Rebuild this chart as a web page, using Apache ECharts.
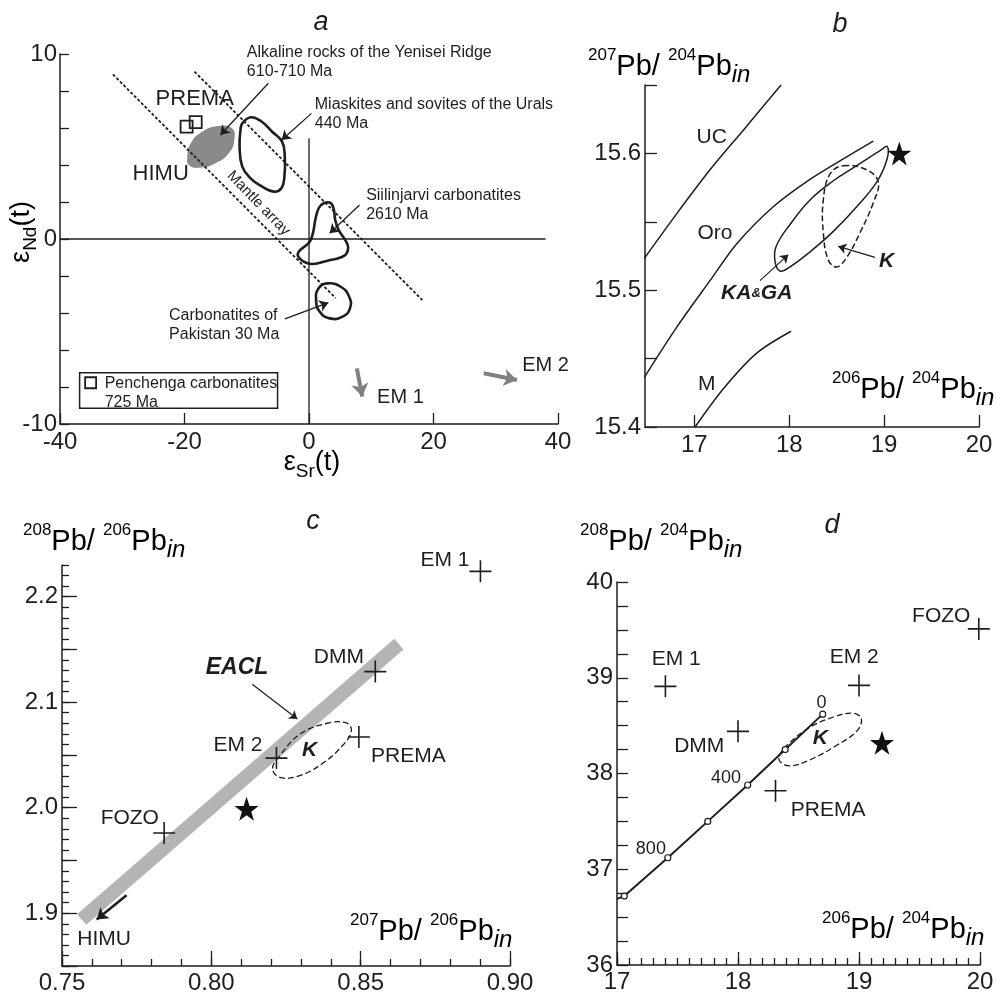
<!DOCTYPE html>
<html><head><meta charset="utf-8">
<script src="https://cdn.jsdelivr.net/npm/echarts@6/dist/echarts.min.js"></script>
<style>html,body{margin:0;padding:0;background:#fff}#c{width:998px;height:1003px}</style>
</head><body><div id="c"></div>
<script>
const FONT = '"Liberation Sans", Arial, Helvetica, sans-serif';
const INK = '#1e1e1e';

/* ---------- Panel a: eps Nd vs eps Sr ---------- */
const aMantleLeft = [[-31.5, 8.9], [4.3, -3.2]];
const aMantleRight = [[-18.4, 9.05], [18.2, -3.3]];
const aZeroH = [[-40, 0], [38, 0]];
const aZeroV = [[0, -10], [0, 5.45]];
const aYenisei = [[-19.55,4.45],[-19.0,5.17],[-17.16,5.80],[-14.49,6.11],[-12.36,5.98],[-12.0,5.35],[-12.89,4.63],[-15.03,4.09],[-17.68,3.85],[-19.28,4.0]];
const aUrals = [[-10.72,6.25],[-9.39,6.58],[-7.79,6.39],[-5.92,5.80],[-4.32,5.26],[-3.89,4.45],[-3.95,3.37],[-4.43,2.74],[-5.65,2.56],[-7.52,2.83],[-9.39,3.28],[-10.72,3.91],[-11.15,4.99],[-11.0,5.89]];
const aSiilinjarvi = [[2.35,1.93],[3.41,1.96],[3.95,1.66],[4.21,1.03],[4.75,0.49],[5.81,-0.05],[6.29,-0.45],[5.7,-0.9],[3.02,-1.17],[0.37,-1.35],[-1.42,-1.08],[-1.71,-0.72],[0.06,-0.18],[0.66,0.36],[1.01,1.03],[1.55,1.66]];
const aPakistan = [[3.02,-2.40],[5.1,-2.58],[6.46,-3.12],[6.58,-3.75],[5.4,-4.2],[3.33,-4.29],[1.73,-3.93],[1.14,-3.3],[1.55,-2.66]];
const aPenchenga = [[-19.66,6.07],[-18.2,6.32]];
const aLegendBox = [[-36.85,-7.23],[-5.05,-7.23],[-5.05,-9.15],[-36.85,-9.15]];
const aLegendSym = [[-35.08,-7.77]];
const aArrows = [[[-6.53,8.42],[-14.24,5.62]],[[0.4,6.79],[-4.39,5.35]],[[8.11,1.84],[3.32,0.31]],[[-3.86,-4.32],[3.11,-3.44]]];
const aGrayArrows = [[[7.68,-6.99],[8.56,-8.52]],[[28.07,-7.26],[33.4,-7.62]]];
const aBigLabels = [[-18.36,7.55,'PREMA'],[-23.82,3.51,'HIMU']];
const aNotes = [[-9.98,9.54,'Alkaline rocks of the Yenisei Ridge\n610-710 Ma'],[0.93,6.76,'Miaskites and sovites of the Urals\n440 Ma'],[9.18,1.81,'Siilinjarvi carbonatites\n2610 Ma'],[-22.48,-4.65,'Carbonatites of\nPakistan 30 Ma'],[-32.83,-8.31,'Penchenga carbonatites\n725 Ma']];
const aEndLabels = [[10.94,-8.59,'EM 1'],[34.25,-6.81,'EM 2']];
const aMantleText = [[-8.11,1.93,'Mantle array']];

/* ---------- Panel b: 207Pb/204Pb vs 206Pb/204Pb ---------- */
const bUC = [[16.47,15.523],[16.815,15.556],[17.165,15.588],[17.516,15.617],[17.914,15.650]];
const bOro = [[16.47,15.436],[16.815,15.473],[17.165,15.507],[17.447,15.534],[17.832,15.561],[18.219,15.581],[18.57,15.596],[18.886,15.609]];
const bM = [[17.007,15.400],[17.306,15.428],[17.657,15.454],[18.019,15.470]];
const bKAGA = [[17.85,15.521],[17.862,15.532],[18.008,15.548],[18.219,15.566],[18.465,15.580],[18.711,15.591],[18.957,15.602],[19.034,15.605],[19.027,15.595],[18.922,15.579],[18.711,15.561],[18.465,15.543],[18.219,15.528],[18.008,15.517],[17.903,15.514]];
const bK = [[18.57,15.591],[18.817,15.588],[18.939,15.579],[18.886,15.564],[18.746,15.542],[18.606,15.524],[18.5,15.517],[18.412,15.522],[18.359,15.542],[18.359,15.566],[18.43,15.585]];
const bStar = [[19.16,15.600]];
const bArrows = [[[17.692,15.507],[17.99,15.526]],[[18.904,15.524],[18.517,15.532]]];
const bCurveLabels = [[17.183,15.612,'UC'],[17.218,15.542,'Oro'],[17.13,15.431,'M']];
const bKAGALabel = [[17.657,15.498,'{b|KA}{s|&}{b|GA}']];
const bKLabel = [[19.027,15.521,'K']];
const bXTicks = [17, 18, 19, 20];

/* ---------- Panel c: 208Pb/206Pb vs 207Pb/206Pb ---------- */
const cCross = [[0.8901,2.224],[0.8549,2.129],[0.8494,2.067],[0.8218,2.047],[0.7842,1.976]];
const cStar = [[0.8118,1.999]];
const cEACL = [[0.7566,1.894],[0.8628,2.155]];
const cK = [[0.8205,2.0372],[0.8229,2.0491],[0.8296,2.0696],[0.8385,2.0798],[0.8452,2.0804],[0.8469,2.0730],[0.8441,2.0594],[0.8374,2.0423],[0.8296,2.0304],[0.8229,2.0287]];
const cHimuArrow = [[[0.7716,1.917],[0.7616,1.894]]];
const cEaclArrow = [[[0.8137,2.117],[0.8288,2.084]]];
const cLabels = [[0.8782,2.235,'EM 1'],[0.8427,2.143,'DMM'],[0.866,2.049,'PREMA'],[0.8089,2.059,'EM 2'],[0.7727,1.9905,'FOZO'],[0.7641,1.8752,'HIMU']];
const cBold = [[0.8086,2.1327,'EACL']];
const cKLabel = [[0.8329,2.0542,'K']];
const cYMajor = [1.85,1.9,1.95,2.0,2.05,2.1,2.15,2.2];
const cYLabels = [1.9,2.0,2.1,2.2];

/* ---------- Panel d: 208Pb/204Pb vs 206Pb/204Pb ---------- */
const dCross = [[17.40,38.91],[19.0,38.92],[18.0,38.44],[18.31,37.82],[19.99,39.51]];
const dStar = [[19.19,38.32]];
const dGrowth = [[17.0,36.69],[17.06,36.72],[17.42,37.12],[17.75,37.50],[18.08,37.88],[18.39,38.25],[18.70,38.62]];
const dK = [[18.34,38.18],[18.40,38.29],[18.59,38.48],[18.79,38.59],[18.95,38.63],[19.02,38.57],[18.98,38.44],[18.81,38.29],[18.59,38.14],[18.43,38.08],[18.35,38.12]];
const dLabels = [[17.49,39.19,'EM 1'],[18.96,39.21,'EM 2'],[17.68,38.29,'DMM'],[18.745,37.615,'PREMA'],[19.68,39.64,'FOZO']];
const dAgeLabels = [[18.69,38.74,'0'],[17.90,37.95,'400'],[17.28,37.21,'800']];
const dKLabel = [[18.68,38.37,'K']];

/* ---------- helpers ---------- */
const STAR = 'path://M50,0 L61.8,35.1 L98.1,35.1 L68.8,56.7 L79.4,91.3 L50,70 L20.6,91.3 L31.2,56.7 L1.9,35.1 L38.2,35.1 Z';
const CROSS = 'path://M10,0 L10,20 M0,10 L20,10';

function vAxis(grid, min, max, pos, o) {
  o = o || {};
  return {
    type: 'value', gridIndex: grid, min: min, max: max, interval: o.interval, position: pos,
    splitLine: {show: false},
    axisLine: {show: o.line !== false, onZero: false, lineStyle: {color: INK, width: 1.5}},
    axisTick: Object.assign({show: true, inside: true, length: o.len || 10, lineStyle: {color: INK, width: 1.3}}, o.tickValues ? {customValues: o.tickValues} : {}),
    axisLabel: Object.assign({show: o.label !== false, fontSize: 24, fontFamily: FONT, color: INK, margin: o.margin || 4, formatter: o.fmt}, o.labelValues ? {customValues: o.labelValues} : {})
  };
}
function line(xi, pts, ls, extra) {
  return Object.assign({type: 'line', xAxisIndex: xi, yAxisIndex: xi, data: pts, symbol: 'none', silent: true, clip: false, z: 3, lineStyle: ls}, extra || {});
}
function poly(xi, pts, style, smooth) {
  return {type: 'custom', xAxisIndex: xi, yAxisIndex: xi, silent: true, clip: false, z: 2, data: [pts[0]],
    renderItem: function (params, api) {
      return {type: 'polygon', shape: {points: pts.map(function (p) { return api.coord(p); }), smooth: smooth || 0}, style: style};
    }};
}
function arrows(xi, list, color, width, head) {
  return {type: 'lines', coordinateSystem: 'cartesian2d', xAxisIndex: xi, yAxisIndex: xi, silent: true, z: 4,
    symbol: ['none', 'arrow'], symbolSize: head,
    lineStyle: {color: color, width: width, opacity: 1, curveness: 0},
    data: list.map(function (c) { return {coords: c}; })};
}
function marks(xi, pts, symbol, size, style) {
  return {type: 'scatter', xAxisIndex: xi, yAxisIndex: xi, silent: true, clip: false, z: 5, symbol: symbol, symbolSize: size, data: pts,
    itemStyle: Object.assign({opacity: 1}, style)};
}
function texts(xi, items, lab) {
  return {type: 'scatter', xAxisIndex: xi, yAxisIndex: xi, silent: true, clip: false, z: 6, symbolSize: 1,
    itemStyle: {color: 'rgba(0,0,0,0)', opacity: 1},
    data: items.map(function (it) { return {value: [it[0], it[1]], label: {formatter: it[2]}}; }),
    label: Object.assign({show: true, position: 'inside', color: INK, opacity: 1, textBorderWidth: 0, fontFamily: FONT, fontSize: 20}, lab)};
}
const crossStyle = {color: 'rgba(0,0,0,0)', borderColor: INK, borderWidth: 1.6};
const starStyle = {color: '#111'};

const TR = {
  m: {fontSize: 29, fontFamily: FONT, color: INK, lineHeight: 40, verticalAlign: 'middle'},
  s: {fontSize: 17, fontFamily: FONT, color: INK, lineHeight: 30, verticalAlign: 'top'},
  i: {fontSize: 24, fontFamily: FONT, color: INK, fontStyle: 'italic', lineHeight: 22, verticalAlign: 'bottom'}
};
function pbTitle(x, y, a, b) {
  return {type: 'text', x: x, y: y, silent: true,
    style: {text: '{s|' + a + '}{m|Pb/ }{s|' + b + '}{m|Pb}{i|in}', rich: TR, align: 'left', verticalAlign: 'middle'}};
}
const ER = {
  m: {fontSize: 27, fontFamily: FONT, color: INK, lineHeight: 36, verticalAlign: 'middle'},
  u: {fontSize: 19, fontFamily: FONT, color: INK, lineHeight: 20, verticalAlign: 'bottom'}
};
function letter(x, y, t) {
  return {type: 'text', x: x, y: y, silent: true, style: {text: t, fontSize: 27, fontStyle: 'italic', fontFamily: FONT, fill: INK, align: 'center', verticalAlign: 'middle'}};
}

const onePlace = function (v) { return Math.abs(Math.round(v * 10) - v * 10) < 1e-6 ? v.toFixed(1) : ''; };

const option = {
  animation: false,
  backgroundColor: '#fff',
  grid: [
    {left: 60, top: 54, width: 498, height: 370},
    {left: 645, top: 85, width: 334, height: 342},
    {left: 62, top: 565, width: 448, height: 401},
    {left: 617, top: 582, width: 363, height: 383}
  ],
  xAxis: [
    vAxis(0, -40, 40, 'bottom', {interval: 20, len: 11, margin: 6}),
    vAxis(1, 16.48, 20, 'bottom', {interval: 1, len: 12, margin: 6, tickValues: bXTicks, labelValues: bXTicks, fmt: function (v) { return Number.isInteger(v) ? String(v) : ''; }}),
    vAxis(2, 0.75, 0.90, 'bottom', {interval: 0.05, len: 15, margin: 5, fmt: function (v) { return v.toFixed(2); }}),
    vAxis(3, 17, 20, 'bottom', {interval: 1, len: 13, margin: 5}),
    vAxis(2, 0.75, 0.90, 'bottom', {interval: 0.01, len: 7, line: false, label: false}),
    vAxis(3, 17, 20, 'bottom', {interval: 0.1, len: 7, line: false, label: false})
  ],
  yAxis: [
    vAxis(0, -10, 10, 'left', {interval: 2, len: 9, margin: 3, fmt: function (v) { return v % 10 === 0 ? String(v) : ''; }}),
    vAxis(1, 15.4, 15.65, 'left', {interval: 0.05, len: 12, margin: 4, fmt: onePlace}),
    vAxis(2, 1.85, 2.23, 'left', {len: 15, margin: 4, tickValues: cYMajor, labelValues: cYLabels, fmt: function (v) { return v.toFixed(1); }}),
    vAxis(3, 36, 40, 'left', {interval: 0.25, len: 11, margin: 4, fmt: function (v) { return Math.abs(v - Math.round(v)) < 1e-6 ? String(Math.round(v)) : ''; }}),
    vAxis(2, 1.85, 2.23, 'left', {interval: 0.01, len: 7, line: false, label: false})
  ],
  graphic: [
    letter(321, 22, 'a'), letter(840, 24, 'b'), letter(313, 521, 'c'), letter(832, 525, 'd'),
    {type: 'text', x: 22, y: 232, rotation: Math.PI / 2, silent: true,
      style: {text: '{m|ε}{u|Nd}{m|(t)}', rich: ER, align: 'center', verticalAlign: 'middle'}},
    {type: 'text', x: 312, y: 463, silent: true,
      style: {text: '{m|ε}{u|Sr}{m|(t)}', rich: ER, align: 'center', verticalAlign: 'middle'}},
    pbTitle(588, 67, '207', '204'),
    pbTitle(832, 390, '206', '204'),
    pbTitle(23, 542, '208', '206'),
    pbTitle(350, 932, '207', '206'),
    pbTitle(580, 542, '208', '204'),
    pbTitle(822, 930, '206', '204')
  ],
  series: [
    /* panel a */
    poly(0, aYenisei, {fill: '#8a8a8a', stroke: 'none'}, 0.5),
    line(0, aZeroH, {color: INK, width: 1.3}),
    line(0, aZeroV, {color: INK, width: 1.3}),
    line(0, aMantleLeft, {color: INK, width: 1.8, type: [3, 2]}),
    line(0, aMantleRight, {color: INK, width: 1.8, type: [3, 2]}),
    poly(0, aUrals, {fill: 'none', stroke: INK, lineWidth: 2.6}, 0.45),
    poly(0, aSiilinjarvi, {fill: 'none', stroke: INK, lineWidth: 2.6}, 0.4),
    poly(0, aPakistan, {fill: 'none', stroke: INK, lineWidth: 2.6}, 0.5),
    poly(0, aLegendBox, {fill: 'none', stroke: INK, lineWidth: 1.5}, 0),
    marks(0, aPenchenga, 'rect', 12, {color: 'rgba(0,0,0,0)', borderColor: INK, borderWidth: 1.8}),
    marks(0, aLegendSym, 'rect', 11, {color: 'rgba(0,0,0,0)', borderColor: INK, borderWidth: 1.8}),
    arrows(0, aArrows, INK, 1.3, [0, 9]),
    arrows(0, aGrayArrows, '#808080', 4, [0, 13]),
    texts(0, aBigLabels, {fontSize: 22}),
    texts(0, aNotes, {fontSize: 16, align: 'left', lineHeight: 19}),
    texts(0, aEndLabels, {fontSize: 20, align: 'left'}),
    texts(0, aMantleText, {fontSize: 15, rotate: -46}),
    /* panel b */
    line(1, bUC, {color: INK, width: 1.5}, {smooth: 0.3}),
    line(1, bOro, {color: INK, width: 1.5}, {smooth: 0.3}),
    line(1, bM, {color: INK, width: 1.5}, {smooth: 0.3}),
    poly(1, bKAGA, {fill: 'none', stroke: INK, lineWidth: 1.5}, 0.4),
    poly(1, bK, {fill: 'none', stroke: INK, lineWidth: 1.5, lineDash: [6, 3]}, 0.4),
    marks(1, bStar, STAR, 24, starStyle),
    arrows(1, bArrows, INK, 1.2, [0, 8]),
    texts(1, bCurveLabels, {fontSize: 21}),
    texts(1, bKAGALabel, {rich: {
      b: {fontSize: 21, fontWeight: 'bold', fontStyle: 'italic', fontFamily: FONT, color: INK},
      s: {fontSize: 13, fontWeight: 'bold', fontStyle: 'italic', fontFamily: FONT, color: INK}}}),
    texts(1, bKLabel, {fontSize: 21, fontWeight: 'bold', fontStyle: 'italic'}),
    /* panel c */
    line(2, cEACL, {color: '#b4b4b4', width: 14, cap: 'butt'}, {z: 1}),
    poly(2, cK, {fill: 'none', stroke: INK, lineWidth: 1.3, lineDash: [6, 3]}, 0.4),
    marks(2, cCross, CROSS, 22, crossStyle),
    marks(2, cStar, STAR, 24, starStyle),
    arrows(2, cHimuArrow, INK, 2.6, [0, 11]),
    arrows(2, cEaclArrow, INK, 1.2, [0, 8]),
    texts(2, cLabels, {fontSize: 21}),
    texts(2, cBold, {fontSize: 23, fontWeight: 'bold', fontStyle: 'italic'}),
    texts(2, cKLabel, {fontSize: 21, fontWeight: 'bold', fontStyle: 'italic'}),
    /* panel d */
    line(3, dGrowth.map(function (p, i) { return i === 0 ? {value: p, symbol: 'none'} : p; }),
      {color: INK, width: 2}, {symbol: 'circle', symbolSize: 6, showSymbol: true, itemStyle: {color: '#fff', borderColor: INK, borderWidth: 1.2, opacity: 1}}),
    poly(3, dK, {fill: 'none', stroke: INK, lineWidth: 1.3, lineDash: [6, 3]}, 0.4),
    marks(3, dCross, CROSS, 22, crossStyle),
    marks(3, dStar, STAR, 24, starStyle),
    texts(3, dLabels, {fontSize: 21}),
    texts(3, dAgeLabels, {fontSize: 18}),
    texts(3, dKLabel, {fontSize: 21, fontWeight: 'bold', fontStyle: 'italic'})
  ]
};
const chart = echarts.init(document.getElementById('c'), null, {renderer: 'canvas'});
chart.setOption(option);
</script>
</body></html>
